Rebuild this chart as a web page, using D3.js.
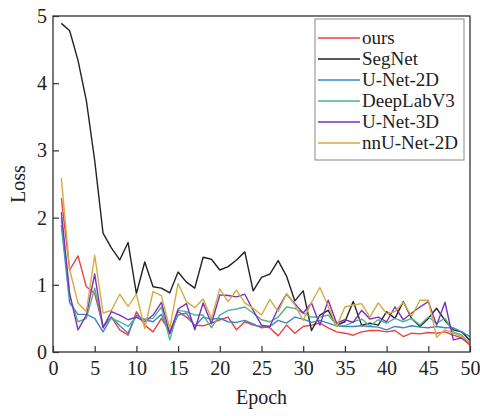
<!DOCTYPE html>
<html><head><meta charset="utf-8">
<script src="https://cdn.jsdelivr.net/npm/d3@7"></script>
<style>
body{margin:0;background:#fff;}
svg text{font-family:"Times New Roman","Liberation Serif",serif !important;fill:#222;}
</style></head>
<body>
<svg id="c" width="480" height="416"></svg>
<script>
const epochs = d3.range(1, 51);
const seriesNames = ["ours","SegNet","U-Net-2D","DeepLabV3","U-Net-3D","nnU-Net-2D"];
const seriesColors = ["#e8423f","#222222","#3a87c6","#4db48c","#7a2fc2","#d6aa40"];
const ours = [2.29,1.22,1.43,0.97,0.87,0.38,0.52,0.33,0.25,0.6,0.4,0.3,0.5,0.3,0.6,0.52,0.4,0.39,0.43,0.48,0.52,0.33,0.45,0.4,0.38,0.36,0.24,0.4,0.28,0.38,0.4,0.43,0.36,0.3,0.28,0.25,0.3,0.32,0.32,0.3,0.32,0.23,0.28,0.27,0.29,0.28,0.3,0.25,0.21,0.1];
const segnet = [4.89,4.78,4.34,3.74,2.85,1.77,1.55,1.37,1.63,0.87,1.34,0.97,0.95,0.88,1.19,1.04,0.95,1.41,1.38,1.22,1.27,1.37,1.49,0.91,1.11,1.16,1.36,1.13,0.76,0.91,0.32,0.55,0.62,0.4,0.45,0.75,0.4,0.43,0.4,0.6,0.5,0.75,0.5,0.38,0.5,0.65,0.47,0.33,0.3,0.17];
const unet2d = [1.89,0.73,0.56,0.56,0.5,0.3,0.52,0.39,0.28,0.55,0.48,0.45,0.56,0.28,0.55,0.58,0.38,0.52,0.49,0.5,0.45,0.44,0.47,0.42,0.36,0.38,0.47,0.43,0.52,0.49,0.44,0.47,0.43,0.39,0.38,0.38,0.39,0.38,0.37,0.33,0.38,0.36,0.39,0.37,0.36,0.38,0.36,0.36,0.3,0.23];
const deeplab = [2.0,0.82,0.45,0.5,0.95,0.38,0.5,0.45,0.38,0.52,0.49,0.5,0.67,0.18,0.62,0.6,0.55,0.55,0.36,0.55,0.62,0.64,0.67,0.58,0.48,0.45,0.52,0.67,0.65,0.58,0.52,0.52,0.55,0.4,0.39,0.45,0.49,0.39,0.48,0.43,0.5,0.45,0.5,0.4,0.52,0.43,0.5,0.3,0.25,0.13];
const unet3d = [2.08,0.87,0.33,0.55,1.16,0.36,0.6,0.55,0.48,0.52,0.45,0.55,0.74,0.27,0.64,0.72,0.33,0.73,0.42,0.85,0.84,0.82,0.86,0.62,0.4,0.38,0.65,0.86,0.72,0.58,0.73,0.4,0.77,0.43,0.48,0.44,0.62,0.49,0.52,0.45,0.67,0.48,0.58,0.67,0.75,0.4,0.74,0.18,0.21,0.13];
const nnunet = [2.59,1.22,0.73,0.6,1.44,0.58,0.62,0.86,0.68,0.86,0.35,0.9,0.84,0.35,1.02,0.75,0.66,0.79,0.5,0.94,0.75,0.92,0.73,0.65,0.55,0.78,0.6,0.87,0.7,0.47,0.74,0.96,0.68,0.38,0.67,0.7,0.72,0.52,0.73,0.57,0.6,0.74,0.53,0.77,0.77,0.22,0.33,0.28,0.23,0.13];
const xTicks = [0,5,10,15,20,25,30,35,40,45,50];
const yTicks = [0,1,2,3,4,5];
const seriesValues = [ours, segnet, unet2d, deeplab, unet3d, nnunet];

const svg = d3.select("#c");
const L = 53, R = 470, T = 16, B = 352;
const x = d3.scaleLinear().domain([0,50]).range([L,R]);
const y = d3.scaleLinear().domain([0,5]).range([B,T]);

const line = d3.line().x((d,i)=>x(epochs[i])).y(d=>y(d));
seriesValues.forEach((vals,k)=>{
  svg.append("path").datum(vals).attr("d",line)
    .attr("fill","none").attr("stroke",seriesColors[k]).attr("stroke-width",1.4)
    .attr("stroke-linejoin","round");
});

svg.append("rect").attr("x",L).attr("y",T).attr("width",R-L).attr("height",B-T)
  .attr("fill","none").attr("stroke","#333").attr("stroke-width",1.3);

const xa = svg.append("g").attr("transform",`translate(0,${B})`)
  .call(d3.axisBottom(x).tickValues(xTicks).tickSize(-6).tickPadding(9).tickFormat(d3.format("d")));
const ya = svg.append("g").attr("transform",`translate(${L},0)`)
  .call(d3.axisLeft(y).tickValues(yTicks).tickSize(-6).tickPadding(6).tickFormat(d3.format("d")));
[xa,ya].forEach(g=>{
  g.attr("font-family",null);
  g.select(".domain").remove();
  g.selectAll(".tick line").attr("stroke","#333").attr("stroke-width",1.2);
  g.selectAll(".tick text").attr("font-size",20).attr("fill","#222");
});

svg.append("text").attr("x",(L+R)/2).attr("y",404).attr("text-anchor","middle")
  .attr("font-size",20).text("Epoch");
svg.append("text").attr("transform",`translate(25,${(T+B)/2}) rotate(-90)`)
  .attr("text-anchor","middle").attr("font-size",20).text("Loss");

const lg = svg.append("g");
lg.append("rect").attr("x",315).attr("y",19).attr("width",149).attr("height",141)
  .attr("fill","#fff").attr("stroke","#888").attr("stroke-width",1);
seriesNames.forEach((n,k)=>{
  const yy = 38 + k*21;
  lg.append("line").attr("x1",318).attr("x2",360).attr("y1",yy).attr("y2",yy)
    .attr("stroke",seriesColors[k]).attr("stroke-width",1.5);
  lg.append("text").attr("x",362).attr("y",yy).attr("dy","0.33em")
    .attr("font-size",19).text(n);
});
</script>
</body></html>
